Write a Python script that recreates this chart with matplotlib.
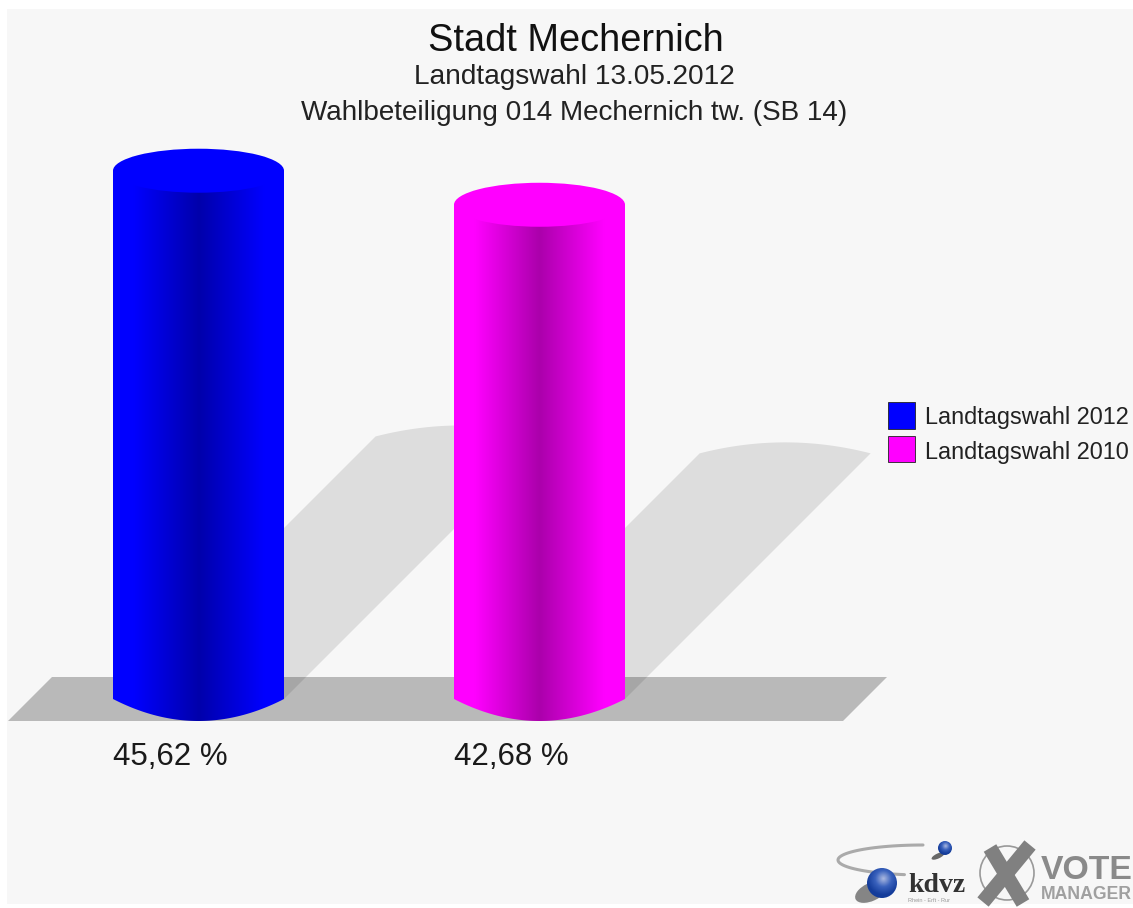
import numpy as np
import matplotlib
matplotlib.use("Agg")
import matplotlib.pyplot as plt
from matplotlib.patches import Ellipse, Polygon, Rectangle, Circle
from matplotlib.colors import LinearSegmentedColormap

W, H = 1133, 908
series = ["Landtagswahl 2012", "Landtagswahl 2010"]
values = [45.62, 42.68]
labels = ["45,62 %", "42,68 %"]
colors = ["#0000ff", "#ff00ff"]
title_lines = ["Stadt Mechernich", "Landtagswahl 13.05.2012",
               "Wahlbeteiligung 014 Mechernich tw. (SB 14)"]

BG = "#f7f7f7"
plt.rcParams["font.family"] = ["Liberation Sans", "DejaVu Sans"]
fig = plt.figure(figsize=(W / 100, H / 100), dpi=100, facecolor="white")

def pixel_axes(z):
    a = fig.add_axes([0, 0, 1, 1], zorder=z)
    a.set_xlim(0, W); a.set_ylim(H, 0); a.axis("off")
    a.patch.set_alpha(0)
    return a

back = pixel_axes(0)
front = pixel_axes(2)
back.add_patch(Rectangle((7, 9), W - 7, 895, fc=BG, ec="none"))
back.add_patch(Polygon([(8, 721), (843, 721), (887, 677), (52, 677)], closed=True,
                       fc="#b9b9b9", ec="none"))

# data layer: x in category units, y in percent
PX_PER_PCT = 11.58
PX_PER_CAT = 341.0
X0_PX, Y0_PX = 198.5, 699.0
ax = fig.add_axes([0, 0, 1, 1], zorder=1)
ax.axis("off"); ax.patch.set_alpha(0)

hw = 85.5 / PX_PER_CAT
b = 22 / PX_PER_PCT
SHEAR = 0.497
u = np.linspace(-1, 1, 60)

def shade(c, n=256):
    rgb = np.array(matplotlib.colors.to_rgb(c))
    s = np.linspace(0, 1, n)
    f = np.interp(s, [0, 0.12, 0.5, 0.88, 1], [1, 1, 0.67, 1, 1])
    return rgb[None, None, :] * f[None, :, None]

for i, (v, c, lab) in enumerate(zip(values, colors, labels)):
    dx = SHEAR * v * PX_PER_PCT / PX_PER_CAT
    ytop = v * SHEAR
    arc_b = 11 / PX_PER_PCT
    arc = [(i + dx + hw * a, ytop + arc_b * (1 - a ** 2)) for a in u]
    ax.add_patch(Polygon([(i - hw, 0)] + arc + [(i + hw, 0)], closed=True,
                         fc="black", alpha=0.10, ec="none", zorder=1))
    bottom = [(i + hw * a, -b * (1 - a ** 2)) for a in u]
    body = Polygon([(i - hw, v)] + bottom + [(i + hw, v)], closed=True,
                   fc="none", ec="none", zorder=2)
    ax.add_patch(body)
    im = ax.imshow(shade(c), extent=[i - hw, i + hw, -b, v], aspect="auto",
                   interpolation="bilinear", zorder=2)
    im.set_clip_path(body)
    ax.add_patch(Ellipse((i, v), 2 * hw, 2 * b, fc=c, ec="none", zorder=3))
    ax.text(i - hw, -(765 - Y0_PX) / PX_PER_PCT, lab, fontsize=22.5, color="#1a1a1a",
            ha="left", va="baseline", zorder=4)
ax.set_xlim(-X0_PX / PX_PER_CAT, (W - X0_PX) / PX_PER_CAT)
ax.set_ylim(-(H - Y0_PX) / PX_PER_PCT, Y0_PX / PX_PER_PCT)

front.text(576, 51, title_lines[0], fontsize=27.4, color="#111111", ha="center", va="baseline")
front.text(574.5, 84, title_lines[1], fontsize=20.2, color="#222222", ha="center", va="baseline")
front.text(574.5, 120, title_lines[2], fontsize=20.1, color="#222222", ha="center", va="baseline")

for (y0, y1, yb), c, s in zip([(402, 429, 424), (436, 462, 459)], colors, series):
    front.add_patch(Rectangle((888, y0), 27, y1 - y0, fc=c, ec="#222222", lw=0.6))
    front.text(925, yb, s, fontsize=16.9, color="#222222", ha="left", va="baseline")

# logo
yy, xx = np.mgrid[-1:1:64j, -1:1:64j]
sw = np.array([(923 - 85 * np.sin(a), 860 - 15 * np.cos(a)) for a in np.linspace(0, np.pi * 0.93, 50)])
front.plot(sw[:, 0], sw[:, 1], color="#aaaaaa", lw=2.2, solid_capstyle="round")
front.add_patch(Ellipse((871, 892), 34, 18, angle=-25, fc="#555555", ec="none", alpha=0.7))
front.add_patch(Ellipse((938, 856), 14, 5, angle=-25, fc="#444444", ec="none", alpha=0.8))
sph = LinearSegmentedColormap.from_list("sph", ["#aab8e0", "#3a62bd", "#143c9a"])
for (cx, cy, r) in [(882, 883, 15), (945, 848, 7)]:
    d = np.hypot(xx - 0.1, yy + 0.3)
    img = front.imshow(np.clip(d / 1.1, 0, 1), cmap=sph, extent=[cx - r, cx + r, cy + r, cy - r],
                       aspect="auto", interpolation="bilinear", zorder=3)
    img.set_clip_path(Circle((cx, cy), r, transform=front.transData))
front.set_xlim(0, W); front.set_ylim(H, 0)
front.text(908, 892, "kdvz", fontsize=20, family="Liberation Serif", weight="bold",
           color="#333333", ha="left", va="baseline")
front.text(908, 902, "Rhein - Erft - Rur", fontsize=4, color="#999999", ha="left", va="baseline")
front.add_patch(Circle((1007, 873), 27, fc="none", ec="#999999", lw=1.2))
front.plot([990, 1023], [848, 903], color="#808080", lw=10.5, solid_capstyle="butt")
front.plot([1030, 983], [845, 902], color="#808080", lw=10.5, solid_capstyle="butt")
front.text(1041, 879, "VOTE", fontsize=24.3, weight="bold", color="#8a8a8a", ha="left", va="baseline")
front.text(1041, 899, "MANAGER", fontsize=12.7, weight="bold", color="#a0a0a0", ha="left", va="baseline")

fig.savefig("out.png", dpi=100, facecolor="white")
